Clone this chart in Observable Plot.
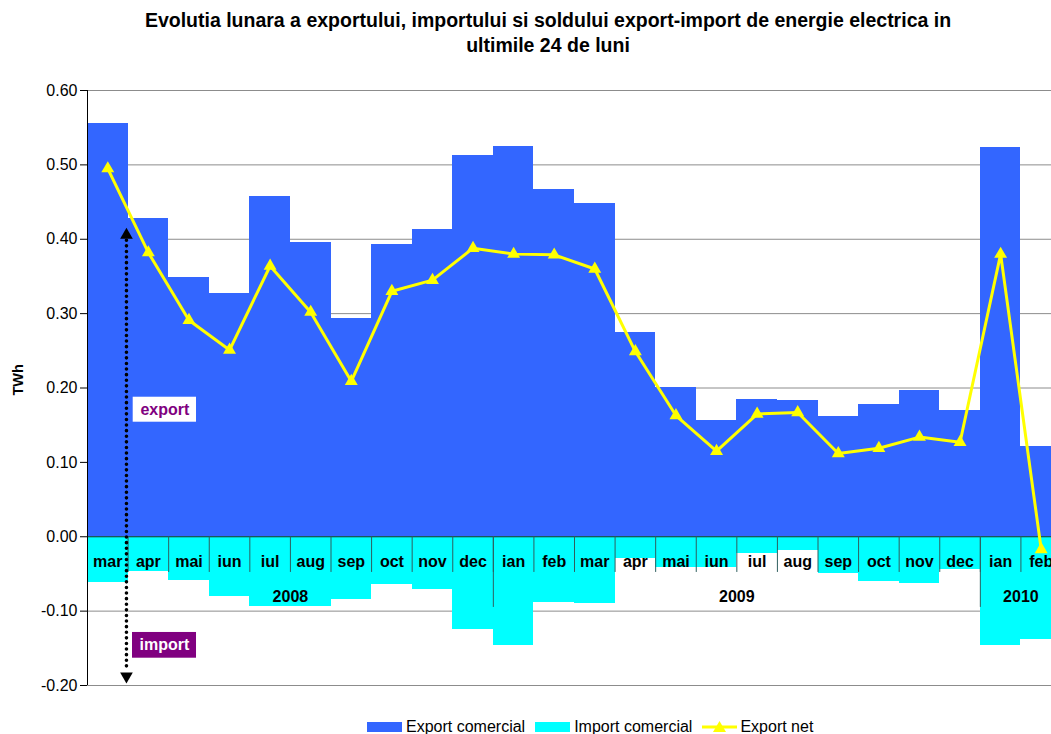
<!DOCTYPE html>
<html>
<head>
<meta charset="utf-8">
<script src="https://cdn.jsdelivr.net/npm/d3@7"></script>
<script src="https://cdn.jsdelivr.net/npm/@observablehq/plot@0.6"></script>
<style>
  html, body { margin: 0; padding: 0; background: #fff; }
  body { width: 1051px; height: 734px; overflow: hidden; position: relative; font-family: "Liberation Sans", Arial, sans-serif; }
  #title { position: absolute; top: 8px; left: 0; width: 1096px; text-align: center; font-weight: bold; font-size: 19.5px; line-height: 25px; color: #000; }
  #chart { position: absolute; top: 70px; left: 0; width: 1061px; }
  #chart svg { max-width: none !important; }
  #legend { position: absolute; top: 718px; left: 367px; display: flex; align-items: center; font-size: 16px; line-height: 18px; color: #000; white-space: nowrap; }
  .sw { width: 35px; height: 10px; margin-right: 4px; }
  .item { display: flex; align-items: center; margin-right: 10px; }
</style>
</head>
<body>
<div id="title">Evolutia lunara a exportului, importului si soldului export-import de energie electrica in<br>ultimile 24 de luni</div>
<div id="chart"></div>
<div id="legend">
  <div class="item"><div class="sw" style="background:#3366FF"></div><span>Export comercial</span></div>
  <div class="item"><div class="sw" style="background:#00FFFF"></div><span>Import comercial</span></div>
  <div class="item"><svg width="35" height="14" style="margin-right:3px"><line x1="0" y1="7" x2="35" y2="7" stroke="#FFFF00" stroke-width="3"/><path d="M17.5,1 L24,12 L11,12 Z" fill="#FFFF00"/></svg><span>Export net</span></div>
</div>
<script>
// ---- data ----
const months = ["mar","apr","mai","iun","iul","aug","sep","oct","nov","dec","ian","feb",
                "mar","apr","mai","iun","iul","aug","sep","oct","nov","dec","ian","feb"];
const exportComercial = [0.556,0.428,0.349,0.327,0.458,0.396,0.294,0.393,0.413,0.512,0.525,0.467,
                         0.448,0.275,0.201,0.156,0.185,0.183,0.162,0.178,0.197,0.170,0.524,0.121];
const importComercial = [-0.061,-0.047,-0.059,-0.080,-0.094,-0.094,-0.085,-0.064,-0.071,-0.125,-0.146,-0.088,
                         -0.090,-0.029,-0.041,-0.041,-0.022,-0.019,-0.050,-0.060,-0.063,-0.044,-0.146,-0.138];
const exportNet = [0.495,0.382,0.291,0.251,0.364,0.302,0.209,0.330,0.345,0.388,0.380,0.379,
                   0.360,0.249,0.163,0.115,0.165,0.167,0.112,0.119,0.134,0.127,0.380,-0.017];
const yearLabels = ["2008","2009","2010"];
const yearStart = [0,10,22];
const yearEnd = [10,22,24];
const yTicks = [-0.2,-0.1,0,0.1,0.2,0.3,0.4,0.5,0.6];

// annotation (data units)
const arrowX = 0.96;
const arrowTop = 0.4056, arrowBottom = -0.1875;
const exportBox = {x1: 1.126, x2: 2.686, y1: 0.154, y2: 0.1876, label: "export"};
const importBox = {x1: 1.109, x2: 2.686, y1: -0.1633, y2: -0.1287, label: "import"};

// ---- table ----
const rows = months.map((m, i) => ({i, m, exp: exportComercial[i], imp: importComercial[i], net: exportNet[i]}));
const years = yearLabels.map((y, k) => ({y, s: yearStart[k], e: yearEnd[k]}));
const boundaries = d3.range(1, months.length);
const yearBoundaries = yearStart.slice(1);

const chart = Plot.plot({
  width: 1061, height: 635,
  marginLeft: 87, marginRight: 0, marginTop: 20, marginBottom: 20,
  x: {domain: [0, months.length], axis: null},
  y: {domain: [-0.2, 0.6], axis: null},
  style: {fontFamily: "'Liberation Sans', Arial, sans-serif", background: "transparent", color: "black", maxWidth: "none"},
  marks: [
    Plot.gridY(yTicks, {stroke: "#8c8c8c", strokeOpacity: 1}),
    Plot.rect(rows, {x1: d => d.i, x2: d => d.i + 1, y1: 0, y2: "exp", fill: "#3366FF", shapeRendering: "crispEdges"}),
    Plot.rect(rows, {x1: d => d.i, x2: d => d.i + 1, y1: "imp", y2: 0, fill: "#00FFFF", shapeRendering: "crispEdges"}),
    Plot.ruleY([0], {stroke: "#222", strokeWidth: 1}),
    Plot.ruleX(boundaries, {y1: 0, y2: -0.048, stroke: "#2f5f5f"}),
    Plot.ruleX(yearBoundaries, {y1: 0, y2: -0.095, stroke: "#2f5f5f"}),
    Plot.ruleX([0], {stroke: "black"}),
    Plot.axisY(yTicks, {tickFormat: d => d.toFixed(2), tickSize: 7, tickPadding: 3, fontSize: 16, label: null, stroke: "black"}),
    Plot.text(["TWh"], {frameAnchor: "left", text: d => d, rotate: -90, dx: -69, dy: 7.5, fontWeight: "bold", fontSize: 14.5}),
    Plot.text(rows, {x: d => d.i + 0.5, y: 0, text: "m", dy: 25, fontWeight: "bold", fontSize: 16, fill: "black"}),
    Plot.text(years, {x: d => (d.s + d.e) / 2, y: 0, text: "y", dy: 60, fontWeight: "bold", fontSize: 16, fill: "black"}),
    // dotted double arrow annotation
    Plot.ruleX([arrowX], {y1: 0.398, y2: -0.18, stroke: "black", strokeWidth: 3.6, strokeDasharray: "0 5.6", strokeLinecap: "round"}),
    Plot.dot([{x: arrowX, y: arrowTop, r: 0}, {x: arrowX, y: arrowBottom, r: 180}], {x: "x", y: "y", rotate: "r", symbol: "triangle", r: 4.7, fill: "black", stroke: null}),
    Plot.rect([exportBox], {x1: "x1", x2: "x2", y1: "y1", y2: "y2", fill: "white"}),
    Plot.text([exportBox], {x: d => (d.x1 + d.x2) / 2, y: d => (d.y1 + d.y2) / 2, text: "label", fill: "#800080", fontWeight: "bold", fontSize: 16}),
    Plot.rect([importBox], {x1: "x1", x2: "x2", y1: "y1", y2: "y2", fill: "#800080"}),
    Plot.text([importBox], {x: d => (d.x1 + d.x2) / 2, y: d => (d.y1 + d.y2) / 2, text: "label", fill: "white", fontWeight: "bold", fontSize: 16}),
    // net export line
    Plot.line(rows, {x: d => d.i + 0.5, y: "net", stroke: "#FFFF00", strokeWidth: 3}),
    Plot.dot(rows, {x: d => d.i + 0.5, y: "net", symbol: "triangle", r: 4.8, fill: "#FFFF00", stroke: null})
  ]
});
document.getElementById("chart").append(chart);
</script>
</body>
</html>
